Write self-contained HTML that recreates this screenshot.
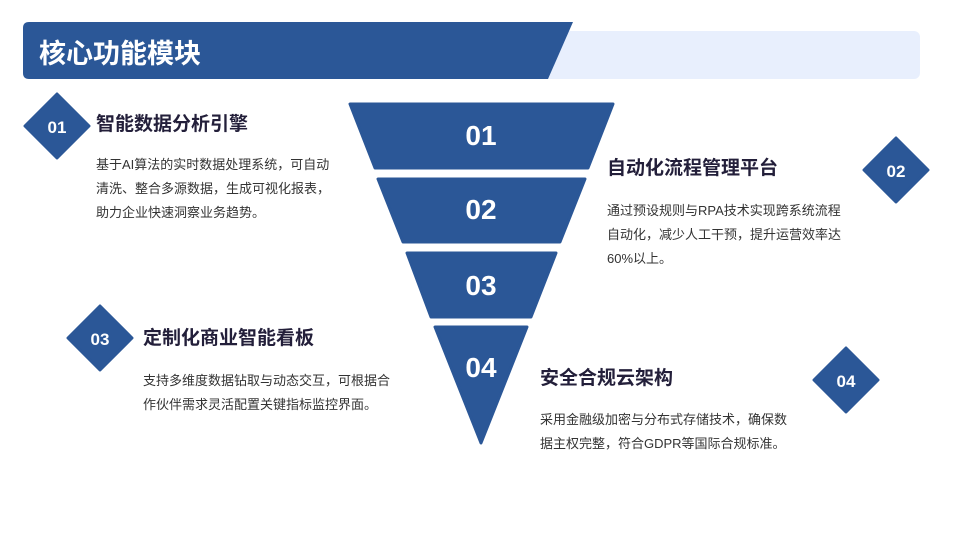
<!DOCTYPE html>
<html><head><meta charset="utf-8"><style>
body{margin:0;width:960px;height:540px;background:#fff;position:relative;overflow:hidden;font-family:"Liberation Sans","Noto Sans CJK SC",sans-serif}
.t{position:absolute;font-size:19px;font-weight:bold;color:#231f3a;white-space:nowrap}
.b{position:absolute;font-size:13px;line-height:24px;color:#333;white-space:nowrap}
svg{position:absolute;left:0;top:0}
</style></head><body>
<svg width="960" height="540">
<rect x="540" y="31" width="380" height="48" rx="6" fill="#e8effd"/>
<path d="M29 22 L573 22 L548 79 L29 79 Q23 79 23 73 L23 28 Q23 22 29 22Z" fill="#2b5797"/>
<g fill="#2b5797" stroke="#2b5797" stroke-width="3" stroke-linejoin="round">
<polygon points="350,104 613,104 588,168 375,168"/>
<polygon points="378,179 585,179 560,242 403,242"/>
<polygon points="407,253 556,253 531,317 431,317"/>
<polygon points="435,327 527,327 481,443"/>
<polygon points="57,94 89,126 57,158 25,126"/>
<polygon points="896,138 928,170 896,202 864,170"/>
<polygon points="100,306 132,338 100,370 68,338"/>
<polygon points="846,348 878,380 846,412 814,380"/>
</g>
<g fill="#fff" font-weight="bold" text-anchor="middle" font-family="Liberation Sans,sans-serif">
<text x="481" y="145" font-size="28">01</text>
<text x="481" y="219" font-size="28">02</text>
<text x="481" y="295" font-size="28">03</text>
<text x="481" y="377" font-size="28">04</text>
<text x="57" y="133" font-size="17">01</text>
<text x="896" y="177" font-size="17">02</text>
<text x="100" y="345" font-size="17">03</text>
<text x="846" y="387" font-size="17">04</text>
</g>
</svg>
<div class="t" style="left:39px;top:32px;font-size:27px;color:#fff">核心功能模块</div>
<div class="t" style="left:96px;top:109px">智能数据分析引擎</div>
<div class="b" style="left:96px;top:153px">基于AI算法的实时数据处理系统，可自动<br>清洗、整合多源数据，生成可视化报表，<br>助力企业快速洞察业务趋势。</div>
<div class="t" style="left:607px;top:153px">自动化流程管理平台</div>
<div class="b" style="left:607px;top:199px">通过预设规则与RPA技术实现跨系统流程<br>自动化，减少人工干预，提升运营效率达<br>60%以上。</div>
<div class="t" style="left:143px;top:323px">定制化商业智能看板</div>
<div class="b" style="left:143px;top:369px">支持多维度数据钻取与动态交互，可根据合<br>作伙伴需求灵活配置关键指标监控界面。</div>
<div class="t" style="left:540px;top:363px">安全合规云架构</div>
<div class="b" style="left:540px;top:408px">采用金融级加密与分布式存储技术，确保数<br>据主权完整，符合GDPR等国际合规标准。</div>
</body></html>
